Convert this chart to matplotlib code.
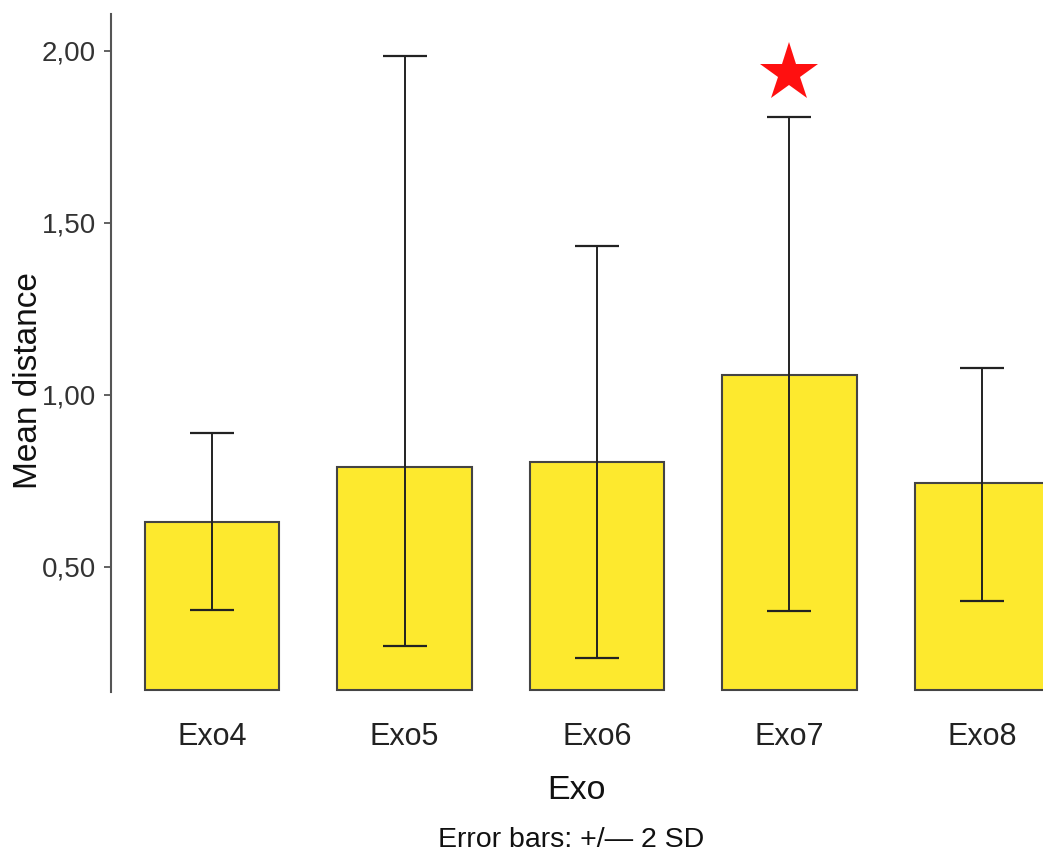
import matplotlib
matplotlib.use("Agg")
import matplotlib.pyplot as plt
import numpy as np
from matplotlib.ticker import FuncFormatter

# Mean distance per Exo group with +/- 2 SD interval ends
GROUPS = ["Exo4", "Exo5", "Exo6", "Exo7", "Exo8"]
MEANS = [0.630, 0.790, 0.804, 1.057, 0.743]
LOWER = [0.375, 0.271, 0.236, 0.372, 0.401]
UPPER = [0.888, 1.986, 1.433, 1.807, 1.077]
FLAGGED = ["Exo7"]
FLAG_Y = 1.935
FLOOR = 0.141  # bars start at the axis floor

plt.rcParams["font.family"] = ["Liberation Sans", "DejaVu Sans"]

fig = plt.figure(figsize=(10.43, 8.51), dpi=100)
ax = fig.add_axes([0.1064, 0.187, 0.8936, 0.7965])

x = np.arange(len(GROUPS))
means = np.array(MEANS)
yerr = [means - np.array(LOWER), np.array(UPPER) - means]

ax.bar(x, means - FLOOR, width=0.7, bottom=FLOOR, color="#FDE92E",
       edgecolor="#444444", linewidth=1.5, zorder=2)
ax.errorbar(x, means, yerr=yerr, fmt="none", ecolor="#222222", elinewidth=1.4,
            capsize=15.5, capthick=1.6, zorder=3)

for g in FLAGGED:
    i = GROUPS.index(g)
    ax.plot(i, FLAG_Y, marker="*", markersize=44, color="#FF1010",
            markeredgewidth=0, zorder=4)

ax.set_xlim(-0.525, 4.317)
ax.set_ylim(FLOOR - 0.004, 2.107)
ax.set_yticks([0.5, 1.0, 1.5, 2.0])
ax.yaxis.set_major_formatter(FuncFormatter(lambda v, _: f"{v:.2f}".replace(".", ",")))
ax.set_xticks(x, GROUPS)

for s in ["top", "right", "bottom"]:
    ax.spines[s].set_visible(False)
ax.spines["left"].set_color("#555555")
ax.spines["left"].set_linewidth(1.5)
ax.tick_params(axis="y", length=5, width=1.3, color="#555555", labelsize=20,
               labelcolor="#333333", pad=6)
ax.tick_params(axis="x", length=0, labelsize=22, labelcolor="#222222", pad=22)

ax.set_ylabel("Mean distance", fontsize=24, color="#111111")
ax.yaxis.set_label_coords(-0.072, 0.46)
ax.set_xlabel("Exo", fontsize=24.5, color="#111111", labelpad=16)

fig.text(0.548, -0.002, "Error bars: +/\u2014 2 SD", ha="center", va="bottom",
         fontsize=20.5, color="#111111")

fig.savefig("out.png", dpi=100)
